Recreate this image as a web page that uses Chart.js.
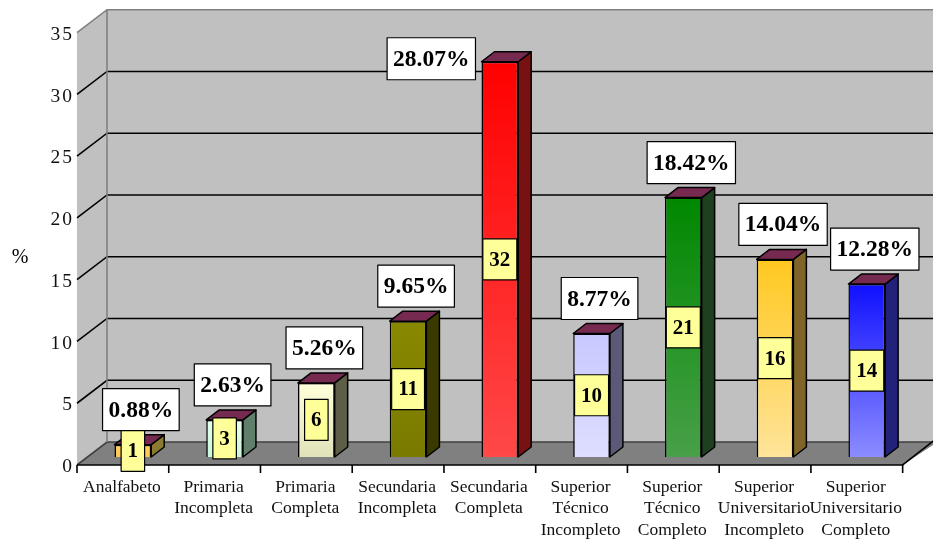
<!DOCTYPE html>
<html>
<head>
<meta charset="utf-8">
<script src="https://cdn.jsdelivr.net/npm/chart.js@4/dist/chart.umd.min.js"></script>
<style>
  html, body { margin: 0; padding: 0; background: #ffffff; }
  canvas { display: block; }
</style>
</head>
<body>
<canvas id="c" width="933" height="545"></canvas>
<script>
// ---- data ----
const categories = [
  ['Analfabeto'],
  ['Primaria', 'Incompleta'],
  ['Primaria', 'Completa'],
  ['Secundaria', 'Incompleta'],
  ['Secundaria', 'Completa'],
  ['Superior', 'Técnico', 'Incompleto'],
  ['Superior', 'Técnico', 'Completo'],
  ['Superior', 'Universitario', 'Incompleto'],
  ['Superior', 'Universitario', 'Completo']
];
const counts = [1, 3, 6, 11, 32, 10, 21, 16, 14];
const percentLabels = ['0.88%', '2.63%', '5.26%', '9.65%', '28.07%', '8.77%', '18.42%', '14.04%', '12.28%'];
const yMin = 0, yMax = 35, yStep = 5;
const yTitle = '%';

// ---- styles ----
const frontTop    = ['#FFD060', '#E6FFEE', '#FFFFDA', '#888800', '#FF0000', '#C8C8FF', '#008800', '#FFC820', '#1010FF'];
const frontBottom = ['#FFC850', '#C8F8D8', '#E2E2BA', '#7A7A00', '#FF4848', '#DEDEFF', '#48A048', '#FFE49A', '#8C8CFF'];
const sideColors  = ['#8C7A30', '#5F7F6A', '#5E5E48', '#3A3A00', '#781212', '#5A5A78', '#1E401E', '#7E6428', '#22227A'];
const topColor = '#762A50';
const FONT = "'Liberation Serif', 'Times New Roman', serif";

// depth geometry (relative to the bar plane = chart area)
const F = { dx: -10, dy: 8 };    // front edge of the floor / walls
const B = { dx: 20, dy: -15 };   // back wall
const BD = { dx: 13, dy: -10 };  // bar depth

const walls = {
  id: 'walls',
  beforeDraw(chart) {
    const c = chart.ctx, a = chart.chartArea, ys = chart.scales.y;
    const y0 = ys.getPixelForValue(yMin), yt = ys.getPixelForValue(yMax);
    const L = a.left, R = a.right;
    c.save();
    c.letterSpacing = '0px';
    // left wall
    c.fillStyle = '#C0C0C0';
    c.beginPath();
    c.moveTo(L + F.dx, yt + F.dy); c.lineTo(L + B.dx, yt + B.dy);
    c.lineTo(L + B.dx, y0 + B.dy); c.lineTo(L + F.dx, y0 + F.dy);
    c.closePath(); c.fill();
    // back wall
    c.fillRect(L + B.dx, yt + B.dy, R - L + 5, y0 - yt);
    // floor
    c.fillStyle = '#808080';
    c.beginPath();
    c.moveTo(L + F.dx, y0 + F.dy); c.lineTo(L + B.dx, y0 + B.dy);
    c.lineTo(R + B.dx + 5, y0 + B.dy); c.lineTo(R + F.dx, y0 + F.dy);
    c.closePath(); c.fill();
    // grid lines
    c.lineWidth = 1.6;
    for (let v = yMin; v < yMax; v += yStep) {
      const y = ys.getPixelForValue(v);
      c.beginPath();
      c.moveTo(L + F.dx, y + F.dy);
      c.lineTo(L + B.dx, y + B.dy);
      c.lineTo(R + B.dx + 5, y + B.dy);
      c.strokeStyle = v === yMin ? '#404040' : '#000';
      c.stroke();
    }
    // wall outline
    c.strokeStyle = '#808080';
    c.beginPath();
    c.moveTo(L + F.dx, yt + F.dy); c.lineTo(L + B.dx, yt + B.dy); c.lineTo(R + B.dx + 5, yt + B.dy);
    c.moveTo(L + B.dx, yt + B.dy); c.lineTo(L + B.dx, y0 + B.dy);
    c.stroke();
    // floor front and right edges
    c.strokeStyle = '#000';
    c.beginPath();
    c.moveTo(L + F.dx, y0 + F.dy); c.lineTo(R + F.dx, y0 + F.dy);
    c.lineTo(R + B.dx + 2, y0 + B.dy - 2);
    c.stroke();
    // category tick marks
    const n = categories.length, w = (R - L) / n;
    c.beginPath();
    for (let k = 0; k <= n; k++) {
      const x = L + k * w + F.dx;
      c.moveTo(x, y0 + F.dy); c.lineTo(x, y0 + F.dy + 8);
    }
    c.stroke();
    c.restore();
    // spacing used by the category labels
    chart.ctx.letterSpacing = '0px';
  }
};

function box(c, text, cx, cy, padX, h, fill, font) {
  c.font = font;
  const tw = c.measureText(text).width;
  const w = tw + 2 * padX;
  c.fillStyle = fill;
  c.fillRect(cx - w / 2, cy - h / 2, w, h);
  c.strokeStyle = '#000';
  c.lineWidth = 1.2;
  c.strokeRect(cx - w / 2, cy - h / 2, w, h);
  c.fillStyle = '#000';
  c.textAlign = 'center';
  c.textBaseline = 'middle';
  c.fillText(text, cx, cy + 1);
  return w;
}

const bars3d = {
  id: 'bars3d',
  afterDatasetsDraw(chart) {
    const c = chart.ctx;
    const meta = chart.getDatasetMeta(0);
    c.save();
    c.letterSpacing = '0px';
    c.lineWidth = 1.5;
    c.lineJoin = 'round';
    c.strokeStyle = '#000';
    meta.data.forEach((el, i) => {
      const p = el.getProps(['x', 'y', 'base', 'width'], true);
      const xl = p.x - p.width / 2, xr = p.x + p.width / 2;
      // side face
      c.fillStyle = sideColors[i];
      c.beginPath();
      c.moveTo(xr, p.y); c.lineTo(xr + BD.dx, p.y + BD.dy);
      c.lineTo(xr + BD.dx, p.base + BD.dy); c.lineTo(xr, p.base);
      c.closePath(); c.fill(); c.stroke();
      // top face
      c.fillStyle = topColor;
      c.beginPath();
      c.moveTo(xl, p.y); c.lineTo(xl + BD.dx, p.y + BD.dy);
      c.lineTo(xr + BD.dx, p.y + BD.dy); c.lineTo(xr, p.y);
      c.closePath(); c.fill(); c.stroke();
    });
    // labels
    const maxV = Math.max(...counts);
    const pctFont = `bold 23.5px ${FONT}`;
    meta.data.forEach((el, i) => {
      const p = el.getProps(['x', 'y', 'base', 'width'], true);
      // count label (yellow) in the middle of the front face
      box(c, String(counts[i]), p.x, (p.y + p.base) / 2, 6.5, 41, '#FFFF99', `bold 21px ${FONT}`);
      // percentage label (white)
      c.font = pctFont;
      const w = c.measureText(percentLabels[i]).width + 12;
      let cx, cy;
      if (counts[i] === maxV) {
        cx = p.x - p.width / 2 - 6 - w / 2;
        cy = p.y - 3;
      } else {
        cx = p.x + 8;
        cy = p.y + BD.dy - 4 - 21;
      }
      box(c, percentLabels[i], cx, cy, 6, 42, '#FFFFFF', pctFont);
    });
    c.restore();
    // spacing used by the value-axis labels (drawn in a later layer)
    c.letterSpacing = '2px';
  },
  afterDraw(chart) {
    const c = chart.ctx;
    c.save();
    c.letterSpacing = '0px';
    c.font = `20px ${FONT}`;
    c.fillStyle = '#000';
    c.textAlign = 'center';
    c.textBaseline = 'middle';
    c.fillText(yTitle, 20, 258);
    c.restore();
  }
};

new Chart(document.getElementById('c'), {
  type: 'bar',
  data: {
    labels: categories,
    datasets: [{
      data: counts,
      backgroundColor: (ctx) => {
        const i = ctx.dataIndex;
        if (i === undefined) return '#888';
        const chart = ctx.chart, ys = chart.scales.y;
        if (!chart.chartArea || !ys) return frontTop[i];
        const t = ys.getPixelForValue(counts[i]), b = ys.getPixelForValue(0);
        const g = chart.ctx.createLinearGradient(0, t, 0, b);
        g.addColorStop(0, frontTop[i]);
        g.addColorStop(1, frontBottom[i]);
        return g;
      },
      borderColor: '#000',
      borderWidth: 1.5,
      categoryPercentage: 1.0,
      barPercentage: 0.4
    }]
  },
  options: {
    responsive: false,
    animation: false,
    layout: { padding: { left: 0, right: 19, top: 24, bottom: 0 } },
    plugins: { legend: { display: false }, tooltip: { enabled: false } },
    scales: {
      x: {
        grid: { display: false, drawTicks: false },
        border: { display: false },
        ticks: {
          autoSkip: false, maxRotation: 0, minRotation: 0,
          padding: 19, labelOffset: -11,
          color: '#111',
          font: { family: FONT, size: 17.5, lineHeight: 1.25 }
        },
        afterFit: (s) => { s.height = 88; }
      },
      y: {
        min: yMin, max: yMax,
        grid: { display: false, drawTicks: false },
        border: { display: false },
        ticks: {
          stepSize: yStep, padding: 13, labelOffset: 10, z: 1,
          color: '#111',
          font: { family: FONT, size: 19.5 }
        },
        afterFit: (s) => { s.width = 87; }
      }
    }
  },
  plugins: [walls, bars3d]
});
</script>
</body>
</html>
